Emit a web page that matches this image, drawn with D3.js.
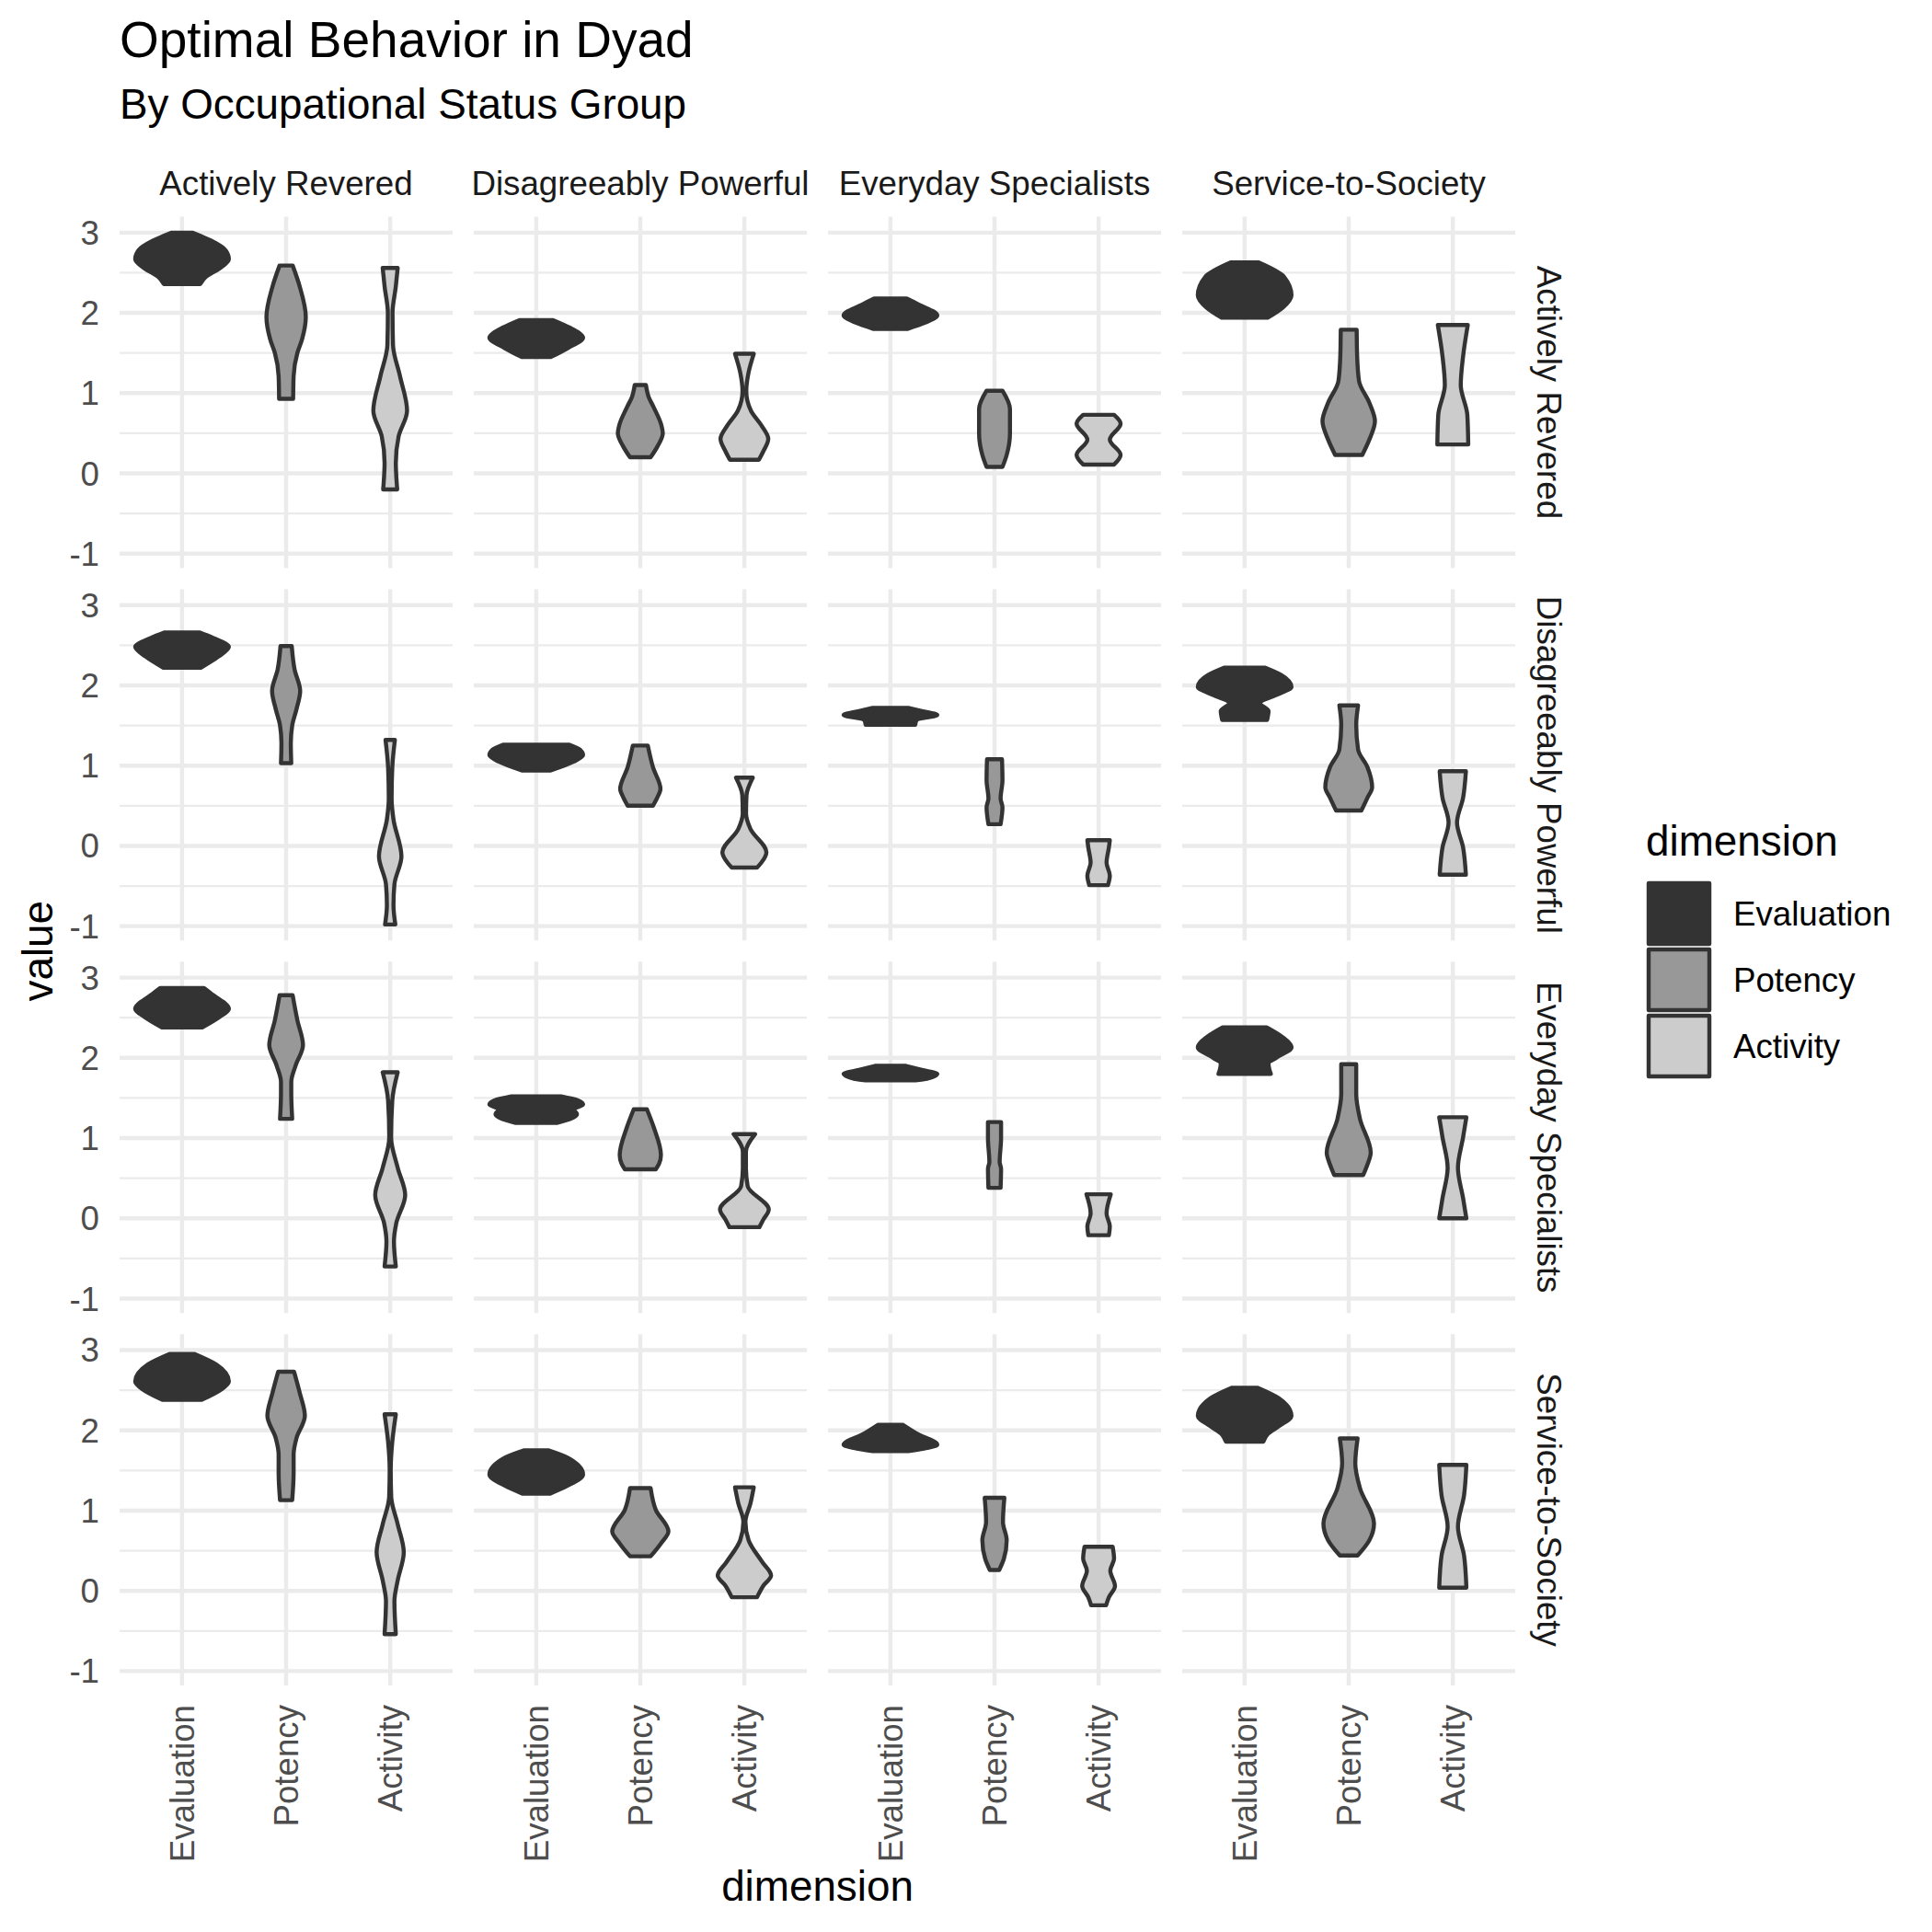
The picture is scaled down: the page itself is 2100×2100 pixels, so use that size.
<!DOCTYPE html>
<html>
<head>
<meta charset="utf-8">
<script src="https://cdn.jsdelivr.net/npm/d3@7"></script>
<style>
  html, body { margin: 0; padding: 0; background: #ffffff; }
  svg { display: block; font-family: "Liberation Sans", Arial, Helvetica, sans-serif; }
</style>
</head>
<body>
<script>
// ---------------- data ----------------
const dims = ["Evaluation", "Potency", "Activity"];
const groups = ["Actively Revered", "Disagreeably Powerful", "Everyday Specialists", "Service-to-Society"];
const fillColors = ["#333333", "#989898", "#CCCCCC"];
const yTicks = [-1, 0, 1, 2, 3];
const yMinorTicks = [-0.5, 0.5, 1.5, 2.5];

// Violin profiles: [value, relative density (1 = widest)]
// naming: <row group>_<column group>, each = [Evaluation, Potency, Activity]
const AR_AR = [
  [[3.00,0.22],[2.90,0.62],[2.78,0.93],[2.67,1.0],[2.55,0.79],[2.45,0.51],[2.36,0.39]],
  [[2.59,0.14],[2.33,0.29],[1.95,0.42],[1.67,0.34],[1.50,0.24],[1.21,0.16],[0.93,0.15]],
  [[2.56,0.16],[2.33,0.12],[2.00,0.05],[1.60,0.06],[1.21,0.21],[0.78,0.36],[0.46,0.18],[0.13,0.12],[-0.20,0.15]]
];
const AR_DP = [
  [[1.91,0.36],[1.82,0.70],[1.69,1.0],[1.56,0.67],[1.45,0.31]],
  [[1.10,0.12],[0.95,0.18],[0.83,0.28],[0.60,0.45],[0.50,0.48],[0.34,0.37],[0.20,0.22]],
  [[1.49,0.20],[1.26,0.09],[1.02,0.04],[0.78,0.14],[0.60,0.36],[0.43,0.51],[0.27,0.40],[0.17,0.31]]
];
const AR_ES = [
  [[2.18,0.35],[2.10,0.62],[1.97,1.0],[1.88,0.75],[1.80,0.36]],
  [[1.03,0.17],[0.80,0.33],[0.50,0.33],[0.23,0.26],[0.08,0.17]],
  [[0.73,0.33],[0.62,0.47],[0.42,0.24],[0.23,0.47],[0.11,0.33]]
];
const AR_SS = [
  [[2.63,0.29],[2.45,0.84],[2.22,1.0],[2.07,0.82],[1.94,0.49]],
  [[1.79,0.17],[1.46,0.18],[1.15,0.22],[0.88,0.44],[0.65,0.56],[0.42,0.44],[0.23,0.29]],
  [[1.85,0.32],[1.46,0.22],[1.10,0.17],[0.73,0.31],[0.36,0.33]]
];
const DP_AR = [
  [[2.66,0.37],[2.59,0.67],[2.48,1.0],[2.36,0.78],[2.22,0.40]],
  [[2.49,0.12],[2.20,0.18],[1.93,0.30],[1.70,0.22],[1.50,0.13],[1.28,0.10],[1.03,0.11]],
  [[1.32,0.10],[0.98,0.045],[0.59,0.03],[0.33,0.07],[-0.13,0.24],[-0.48,0.09],[-0.74,0.07],[-0.98,0.11]]
];
const DP_DP = [
  [[1.26,0.71],[1.20,0.93],[1.13,1.0],[1.05,0.80],[0.94,0.31]],
  [[1.25,0.16],[0.98,0.27],[0.71,0.43],[0.60,0.36],[0.50,0.27]],
  [[0.85,0.18],[0.63,0.045],[0.40,0.035],[0.21,0.13],[-0.08,0.47],[-0.21,0.36],[-0.27,0.27]]
];
const DP_ES = [
  [[1.72,0.38],[1.68,0.67],[1.63,1.0],[1.57,0.56],[1.51,0.53]],
  [[1.08,0.16],[0.82,0.17],[0.59,0.13],[0.48,0.17],[0.27,0.13]],
  [[0.07,0.24],[-0.02,0.22],[-0.21,0.17],[-0.37,0.24],[-0.49,0.20]]
];
const DP_SS = [
  [[2.22,0.44],[2.13,0.78],[1.98,1.0],[1.88,0.67],[1.78,0.33],[1.68,0.51],[1.57,0.48]],
  [[1.75,0.20],[1.51,0.16],[1.20,0.20],[0.98,0.40],[0.73,0.50],[0.60,0.40],[0.44,0.27]],
  [[0.93,0.28],[0.60,0.22],[0.29,0.09],[-0.02,0.22],[-0.36,0.28]]
];
const ES_AR = [
  [[2.87,0.47],[2.78,0.67],[2.61,1.0],[2.51,0.80],[2.38,0.43]],
  [[2.78,0.14],[2.47,0.24],[2.16,0.36],[1.90,0.20],[1.70,0.11],[1.55,0.11],[1.24,0.13]],
  [[1.82,0.16],[1.47,0.045],[1.01,0.02],[0.63,0.16],[0.29,0.32],[-0.06,0.13],[-0.29,0.08],[-0.60,0.12]]
];
const ES_DP = [
  [[1.52,0.53],[1.47,0.89],[1.42,1.0],[1.36,0.80],[1.30,0.87],[1.24,0.73],[1.19,0.44]],
  [[1.36,0.14],[1.13,0.29],[0.79,0.44],[0.68,0.40],[0.61,0.33]],
  [[1.05,0.23],[0.83,0.033],[0.63,0.033],[0.40,0.07],[0.11,0.52],[-0.02,0.40],[-0.11,0.32]]
];
const ES_ES = [
  [[1.90,0.33],[1.85,0.67],[1.80,1.0],[1.74,0.78],[1.72,0.53]],
  [[1.20,0.14],[1.00,0.14],[0.70,0.11],[0.62,0.14],[0.38,0.13]],
  [[0.30,0.26],[0.06,0.17],[-0.10,0.24],[-0.21,0.22]]
];
const ES_SS = [
  [[2.38,0.47],[2.27,0.78],[2.13,1.0],[2.00,0.67],[1.93,0.51],[1.85,0.53],[1.80,0.56]],
  [[1.92,0.16],[1.55,0.16],[1.24,0.24],[0.82,0.47],[0.67,0.40],[0.54,0.31]],
  [[1.26,0.29],[1.01,0.22],[0.63,0.11],[0.25,0.22],[0.00,0.29]]
];
const SS_AR = [
  [[2.95,0.27],[2.82,0.73],[2.61,1.0],[2.51,0.84],[2.38,0.42]],
  [[2.73,0.17],[2.47,0.29],[2.18,0.40],[1.90,0.22],[1.70,0.16],[1.47,0.16],[1.13,0.13]],
  [[2.20,0.12],[1.86,0.045],[1.51,0.011],[1.17,0.022],[0.83,0.16],[0.48,0.29],[0.13,0.16],[-0.13,0.09],[-0.54,0.12]]
];
const SS_DP = [
  [[1.75,0.27],[1.66,0.67],[1.45,1.0],[1.31,0.67],[1.21,0.29]],
  [[1.28,0.22],[1.01,0.33],[0.74,0.60],[0.59,0.44],[0.43,0.22]],
  [[1.29,0.20],[1.09,0.13],[0.86,0.022],[0.63,0.09],[0.36,0.38],[0.19,0.57],[0.06,0.40],[-0.08,0.27]]
];
const SS_ES = [
  [[2.07,0.26],[1.96,0.56],[1.82,1.0],[1.78,0.78],[1.74,0.38]],
  [[1.16,0.21],[0.86,0.18],[0.63,0.26],[0.40,0.20],[0.26,0.10]],
  [[0.55,0.30],[0.40,0.33],[0.25,0.25],[0.06,0.35],[-0.08,0.22],[-0.18,0.16]]
];
const SS_SS = [
  [[2.53,0.28],[2.40,0.73],[2.18,1.0],[2.05,0.73],[1.95,0.49],[1.86,0.40]],
  [[1.90,0.19],[1.59,0.14],[1.28,0.24],[0.84,0.54],[0.63,0.44],[0.44,0.19]],
  [[1.57,0.29],[1.19,0.24],[0.80,0.11],[0.44,0.24],[0.04,0.29]]
];

// table built from the arrays above: rows x columns
const panelData = [
  [AR_AR, AR_DP, AR_ES, AR_SS],
  [DP_AR, DP_DP, DP_ES, DP_SS],
  [ES_AR, ES_DP, ES_ES, ES_SS],
  [SS_AR, SS_DP, SS_ES, SS_SS]
];

// ---------------- layout ----------------
const W = 2100, H = 2100;
const plotLeft = 130, plotRight = 1647, plotTop = 235.5, plotBottom = 1832;
const gap = 23;
const panelW = (plotRight - plotLeft - 3 * gap) / 4;
const panelH = (plotBottom - plotTop - 3 * gap) / 4;
const FONT = '"Liberation Sans", Arial, Helvetica, sans-serif';
const gridCol = "#EBEBEB";
const lineW = 4.44;

const svg = d3.select("body").append("svg")
  .attr("width", W).attr("height", H)
  .attr("viewBox", `0 0 ${W} ${H}`);
svg.append("rect").attr("width", W).attr("height", H).attr("fill", "#ffffff");

// scales
const allVals = panelData.flat(3).filter((d, i) => false); // placeholder (not used)
const values = [];
panelData.forEach(r => r.forEach(p => p.forEach(v => v.forEach(pt => values.push(pt[0])))));
const ext = d3.extent(values);
const pad = (ext[1] - ext[0]) * 0.05;
const y = d3.scaleLinear().domain([ext[0] - pad, ext[1] + pad]).range([panelH, 0]);
const x = d3.scalePoint().domain(dims).range([0, panelW]).padding(0.6);
const fill = d3.scaleOrdinal().domain(dims).range(fillColors);
const halfW = d3.scaleLinear().domain([0, 1]).range([0, 0.45 * x.step()]);

const area = d3.area()
  .curve(d3.curveMonotoneY)
  .y(d => y(d[0]))
  .x0(d => -halfW(d[1]))
  .x1(d => halfW(d[1]));

const panelX = i => plotLeft + i * (panelW + gap);
const panelY = j => plotTop + j * (panelH + gap);

for (let r = 0; r < 4; r++) {
  for (let c = 0; c < 4; c++) {
    const g = svg.append("g").attr("transform", `translate(${panelX(c)},${panelY(r)})`);
    // minor grid
    g.selectAll("line.ymin").data(yMinorTicks).join("line")
      .attr("x1", 0).attr("x2", panelW)
      .attr("y1", d => y(d)).attr("y2", d => y(d))
      .attr("stroke", gridCol).attr("stroke-width", lineW / 2);
    // major grid
    g.selectAll("line.ymaj").data(yTicks).join("line")
      .attr("x1", 0).attr("x2", panelW)
      .attr("y1", d => y(d)).attr("y2", d => y(d))
      .attr("stroke", gridCol).attr("stroke-width", lineW);
    g.selectAll("line.xmaj").data(dims).join("line")
      .attr("x1", d => x(d)).attr("x2", d => x(d))
      .attr("y1", 0).attr("y2", panelH)
      .attr("stroke", gridCol).attr("stroke-width", lineW);
    // violins
    const prof = panelData[r][c];
    dims.forEach((dname, k) => {
      g.append("path")
        .attr("transform", `translate(${x(dname)},0)`)
        .attr("d", area(prof[k]))
        .attr("fill", fill(dname))
        .attr("stroke", "#333333")
        .attr("stroke-width", lineW)
        .attr("stroke-linejoin", "round");
    });
  }
}

// y tick labels
for (let r = 0; r < 4; r++) {
  svg.append("g").selectAll("text").data(yTicks).join("text")
    .attr("x", plotLeft - 22)
    .attr("y", d => panelY(r) + y(d) + 13)
    .attr("text-anchor", "end")
    .attr("font-size", 36.7)
    .attr("fill", "#4D4D4D")
    .text(d => d3.format("d")(d).replace("\u2212", "-"));
}

// x tick labels
for (let c = 0; c < 4; c++) {
  svg.append("g").selectAll("text").data(dims).join("text")
    .attr("transform", d => `translate(${panelX(c) + x(d) + 13},${plotBottom + 21}) rotate(-90)`)
    .attr("text-anchor", "end")
    .attr("font-size", 36.7)
    .attr("fill", "#4D4D4D")
    .text(d => d);
}

// strips (top)
svg.append("g").selectAll("text").data(groups).join("text")
  .attr("x", (d, i) => panelX(i) + panelW / 2)
  .attr("y", plotTop - 24)
  .attr("text-anchor", "middle")
  .attr("font-size", 36.7)
  .attr("fill", "#1A1A1A")
  .text(d => d);

// strips (right)
svg.append("g").selectAll("text").data(groups).join("text")
  .attr("transform", (d, j) => `translate(${plotRight + 24},${panelY(j) + panelH / 2}) rotate(90)`)
  .attr("text-anchor", "middle")
  .attr("font-size", 36.7)
  .attr("fill", "#1A1A1A")
  .text(d => d);

// axis titles
svg.append("text")
  .attr("x", (plotLeft + plotRight) / 2).attr("y", 2066)
  .attr("text-anchor", "middle").attr("font-size", 45.8).attr("fill", "#000")
  .text("dimension");
svg.append("text")
  .attr("transform", `translate(57,${(plotTop + plotBottom) / 2}) rotate(-90)`)
  .attr("text-anchor", "middle").attr("font-size", 45.8).attr("fill", "#000")
  .text("value");

// title & subtitle
svg.append("text").attr("x", plotLeft).attr("y", 62)
  .attr("font-size", 55).attr("fill", "#000").text("Optimal Behavior in Dyad");
svg.append("text").attr("x", plotLeft).attr("y", 129)
  .attr("font-size", 45.8).attr("fill", "#000").text("By Occupational Status Group");

// legend
const lgX = 1789, keyTop = 957, keySize = 72;
const lg = svg.append("g");
lg.append("text").attr("x", lgX).attr("y", 930)
  .attr("font-size", 45.8).attr("fill", "#000").text("dimension");
dims.forEach((dname, k) => {
  const ky = keyTop + k * keySize;
  lg.append("rect")
    .attr("x", lgX + 3).attr("y", ky + 3)
    .attr("width", keySize - 6).attr("height", keySize - 6)
    .attr("fill", fill(dname))
    .attr("stroke", "#333333")
    .attr("stroke-width", lineW)
    .attr("stroke-linejoin", "round");
  lg.append("text")
    .attr("x", lgX + keySize + 23).attr("y", ky + keySize / 2 + 13)
    .attr("font-size", 36.7).attr("fill", "#000")
    .text(dname);
});
</script>
</body>
</html>
